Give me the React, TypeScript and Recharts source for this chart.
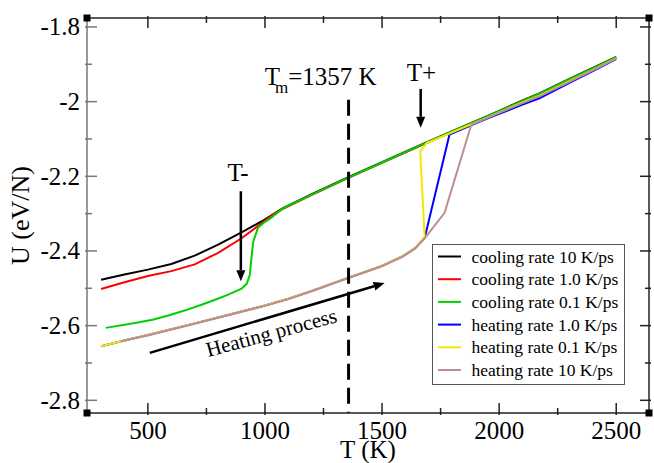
import { LineChart, Line, XAxis, YAxis, ReferenceLine, ReferenceDot } from "recharts";

const FONT = '"Liberation Serif", "Times New Roman", serif';

type Pt = [number, number];

// T (K), U (eV/N)
const coolingRate10: Pt[] = [
  [300, -2.477], [400, -2.463], [500, -2.45], [600, -2.435], [700, -2.4125], [800, -2.383],
  [900, -2.35], [985, -2.321], [1077, -2.285], [1200, -2.248], [1354, -2.203], [1500, -2.162],
  [1682, -2.111], [1800, -2.079], [1959, -2.036], [2100, -1.997], [2172, -1.978], [2300, -1.939],
  [2400, -1.91], [2500, -1.88],
];
const coolingRate1: Pt[] = [
  [300, -2.502], [400, -2.484], [500, -2.467], [600, -2.454], [700, -2.436], [800, -2.405],
  [900, -2.366], [985, -2.326], [1040, -2.3], [1077, -2.287], [1200, -2.25], [1354, -2.205],
  [1500, -2.164], [1682, -2.113], [1800, -2.081], [1959, -2.038], [2100, -1.999], [2172, -1.98],
  [2300, -1.941], [2400, -1.912], [2500, -1.882],
];
const coolingRate01: Pt[] = [
  [320, -2.606], [445, -2.593], [520, -2.584], [587, -2.573], [660, -2.559], [729, -2.544],
  [790, -2.53], [843, -2.517], [900, -2.501], [922, -2.488], [935, -2.465], [942, -2.42],
  [950, -2.375], [970, -2.338], [1000, -2.322], [1020, -2.314], [1077, -2.286], [1200, -2.249],
  [1354, -2.204], [1500, -2.163], [1682, -2.112], [1800, -2.08], [1959, -2.037], [2100, -1.998],
  [2172, -1.979], [2300, -1.94], [2400, -1.911], [2500, -1.881],
];
const heatingRate1: Pt[] = [
  [300, -2.655], [400, -2.64], [508, -2.624], [700, -2.594], [850, -2.57], [1000, -2.546],
  [1100, -2.528], [1200, -2.507], [1354, -2.472], [1496, -2.441], [1589, -2.414], [1640, -2.393],
  [1682, -2.365], [1788, -2.088], [1900, -2.058], [1959, -2.043], [2100, -2.008], [2172, -1.991],
  [2300, -1.95], [2400, -1.918], [2500, -1.886],
];
const heatingRate01: Pt[] = [
  [300, -2.655], [400, -2.64], [508, -2.624], [700, -2.594], [850, -2.57], [1000, -2.546],
  [1100, -2.528], [1200, -2.507], [1354, -2.472], [1496, -2.441], [1589, -2.414], [1640, -2.393],
  [1682, -2.363], [1663, -2.134], [1690, -2.111], [1800, -2.082], [1959, -2.04], [2100, -2.002],
  [2172, -1.984], [2300, -1.945], [2400, -1.915], [2500, -1.884],
];
const heatingRate10: Pt[] = [
  [385, -2.642], [508, -2.625], [700, -2.595], [850, -2.571], [1000, -2.547], [1100, -2.529],
  [1200, -2.508], [1354, -2.473], [1496, -2.442], [1589, -2.415], [1640, -2.394], [1682, -2.366],
  [1767, -2.298], [1881, -2.062], [1959, -2.041], [2100, -2.004], [2172, -1.986], [2300, -1.947],
  [2400, -1.916], [2500, -1.885],
];

const series = [
  { name: "cooling rate 10 K/ps", color: "#000000", points: coolingRate10 },
  { name: "cooling rate 1.0 K/ps", color: "#ff0000", points: coolingRate1 },
  { name: "cooling rate 0.1 K/ps", color: "#00d000", points: coolingRate01 },
  { name: "heating rate 1.0 K/ps", color: "#0000ff", points: heatingRate1 },
  { name: "heating rate 0.1 K/ps", color: "#f5e600", points: heatingRate01 },
  { name: "heating rate 10 K/ps", color: "#bc8f8f", points: heatingRate10 },
];

const xTicks = [500, 750, 1000, 1250, 1500, 1750, 2000, 2250, 2500];
const yTicks = [-2.8, -2.7, -2.6, -2.5, -2.4, -2.3, -2.2, -2.1, -2, -1.9, -1.8];
const xDomain: [number, number] = [240, 2640];
const yDomain: [number, number] = [-2.834, -1.776];

const meltingT = 1357;

const AXIS = "#222";

function BottomTick({ x, y, payload }: any) {
  const major = payload.value % 500 === 0;
  return (
    <g>
      <line x1={x} y1={y} x2={x} y2={y - (major ? 12 : 7)} stroke={AXIS} strokeWidth={1.5} />
      {major && (
        <text x={x} y={y + 24} textAnchor="middle" fontSize={25} fontFamily={FONT} fill="#000">
          {payload.value}
        </text>
      )}
    </g>
  );
}

function TopTick({ x, y, payload }: any) {
  const major = payload.value % 500 === 0;
  return <line x1={x} y1={y} x2={x} y2={y + (major ? 12 : 7)} stroke={AXIS} strokeWidth={1.5} />;
}

function LeftTick({ x, y, payload }: any) {
  const major = Math.round(payload.value * 10) % 2 === 0;
  return (
    <g>
      <line x1={x} y1={y} x2={x + (major ? 12 : 7)} y2={y} stroke="#777" strokeWidth={1.5} />
      {major && (
        <text x={x - 5} y={y + 8.5} textAnchor="end" fontSize={25} fontFamily={FONT} fill="#000">
          {String(payload.value)}
        </text>
      )}
    </g>
  );
}

function RightTick({ x, y, payload }: any) {
  const major = Math.round(payload.value * 10) % 2 === 0;
  return <line x1={x} y1={y} x2={x - (major ? 11 : 6)} y2={y} stroke={AXIS} strokeWidth={1.5} />;
}

function Arrow({ x1, y1, x2, y2 }: any) {
  const ang = Math.atan2(y2 - y1, x2 - x1);
  const head = 11;
  const half = 4.5;
  const bx = x2 - head * Math.cos(ang);
  const by = y2 - head * Math.sin(ang);
  const px = -Math.sin(ang) * half;
  const py = Math.cos(ang) * half;
  return (
    <g>
      <line x1={x1} y1={y1} x2={bx} y2={by} stroke="#000" strokeWidth={2.5} />
      <polygon points={`${x2},${y2} ${bx + px},${by + py} ${bx - px},${by - py}`} fill="#000" />
    </g>
  );
}

const Corner = ({ cx, cy }: any) => <rect x={cx - 3.5} y={cy - 3.5} width={7} height={7} fill="#000" />;

export default function App() {
  return (
    <div style={{ position: "absolute", left: 0, top: 0, width: 654, height: 463, background: "#fff" }}>
      <LineChart width={654} height={463} margin={{ top: 17, right: 4, bottom: 0, left: 0 }}>
        <XAxis
          dataKey="t"
          type="number"
          domain={xDomain}
          ticks={xTicks}
          interval={0}
          allowDataOverflow
          height={50}
          tickSize={0}
          tickLine={false}
          tick={<BottomTick />}
          axisLine={{ stroke: AXIS, strokeWidth: 1.5 }}
          label={{
            content: ({ viewBox }: any) => (
              <text
                x={viewBox.x + viewBox.width / 2}
                y={viewBox.y + viewBox.height - 5}
                textAnchor="middle"
                fontSize={25}
                fontFamily={FONT}
                fill="#000"
              >
                T (K)
              </text>
            ),
          }}
        />
        <XAxis
          xAxisId="top"
          orientation="top"
          dataKey="t"
          type="number"
          domain={xDomain}
          ticks={xTicks}
          interval={0}
          allowDataOverflow
          height={1}
          tickSize={0}
          tickLine={false}
          tick={<TopTick />}
          axisLine={{ stroke: AXIS, strokeWidth: 1.5 }}
        />
        <YAxis
          type="number"
          domain={yDomain}
          ticks={yTicks}
          interval={0}
          allowDataOverflow
          width={87}
          tickSize={0}
          tickLine={false}
          tick={<LeftTick />}
          axisLine={{ stroke: "#777", strokeWidth: 1.5 }}
          label={{
            content: ({ viewBox }: any) => {
              const cx = viewBox.x + 29;
              const cy = viewBox.y + viewBox.height / 2;
              return (
                <text
                  x={cx}
                  y={cy}
                  transform={`rotate(-90 ${cx} ${cy})`}
                  textAnchor="middle"
                  fontSize={26}
                  fontFamily={FONT}
                  fill="#000"
                >
                  U (eV/N)
                </text>
              );
            },
          }}
        />
        <YAxis
          yAxisId="right"
          orientation="right"
          type="number"
          domain={yDomain}
          ticks={yTicks}
          interval={0}
          allowDataOverflow
          width={1}
          tickSize={0}
          tickLine={false}
          tick={<RightTick />}
          axisLine={{ stroke: AXIS, strokeWidth: 1.5 }}
        />

        {series.map((s) => (
          <Line
            key={s.name}
            name={s.name}
            data={s.points.map(([t, u]) => ({ t, u }))}
            dataKey="u"
            type="linear"
            stroke={s.color}
            strokeWidth={2}
            dot={false}
            activeDot={false}
            isAnimationActive={false}
          />
        ))}

        {/* melting temperature */}
        <ReferenceLine
          segment={[{ x: meltingT, y: -1.995 }, { x: meltingT, y: -2.834 }]}
          stroke="#000"
          strokeWidth={3}
          strokeDasharray="16 8"
        />
        <ReferenceDot
          x={999}
          y={-1.9545}
          r={0}
          shape={({ cx, cy }: any) => (
            <text x={cx} y={cy} fontSize={25} fontFamily={FONT} fill="#000">
              T
              <tspan dx={-5} dy={8} fontSize={17}>m</tspan>
              <tspan dy={-8}>={meltingT} K</tspan>
            </text>
          )}
        />

        {/* T+ / T- markers */}
        <ReferenceDot
          x={1668}
          y={-1.9457}
          r={0}
          shape={({ cx, cy }: any) => (
            <text x={cx} y={cy} textAnchor="middle" fontSize={25} fontFamily={FONT} fill="#000">
              T+
            </text>
          )}
        />
        <ReferenceLine segment={[{ x: 1665, y: -1.966 }, { x: 1665, y: -2.07 }]} shape={<Arrow />} />
        <ReferenceDot
          x={885}
          y={-2.2116}
          r={0}
          shape={({ cx, cy }: any) => (
            <text x={cx} y={cy} textAnchor="middle" fontSize={25} fontFamily={FONT} fill="#000">
              T-
            </text>
          )}
        />
        <ReferenceLine segment={[{ x: 897, y: -2.24 }, { x: 897, y: -2.481 }]} shape={<Arrow />} />

        {/* heating direction */}
        <ReferenceLine segment={[{ x: 508, y: -2.673 }, { x: 1511, y: -2.486 }]} shape={<Arrow />} />
        <ReferenceDot
          x={1035}
          y={-2.637}
          r={0}
          shape={({ cx, cy }: any) => (
            <text
              x={cx}
              y={cy}
              textAnchor="middle"
              transform={`rotate(-15.2 ${cx} ${cy})`}
              fontSize={21}
              fontFamily={FONT}
              fill="#000"
            >
              Heating process
            </text>
          )}
        />

        {[xDomain[0], xDomain[1]].flatMap((x) =>
          [yDomain[0], yDomain[1]].map((y) => (
            <ReferenceDot key={`${x}${y}`} x={x} y={y} r={0} ifOverflow="visible" shape={<Corner />} />
          ))
        )}
      </LineChart>

      <div
        style={{
          position: "absolute",
          left: 432,
          top: 244,
          width: 193,
          height: 141,
          boxSizing: "border-box",
          border: "1.5px solid #555",
          background: "#fff",
        }}
      >
        <svg width={190} height={138} style={{ display: "block" }}>
          {series.map((s, i) => (
            <g key={s.name}>
              <line x1={5} x2={28} y1={11.5 + i * 22.7} y2={11.5 + i * 22.7} stroke={s.color} strokeWidth={2} />
              <text x={38.5} y={17.5 + i * 22.7} fontSize={17.5} fontFamily={FONT} fill="#000">
                {s.name}
              </text>
            </g>
          ))}
        </svg>
      </div>
    </div>
  );
}
